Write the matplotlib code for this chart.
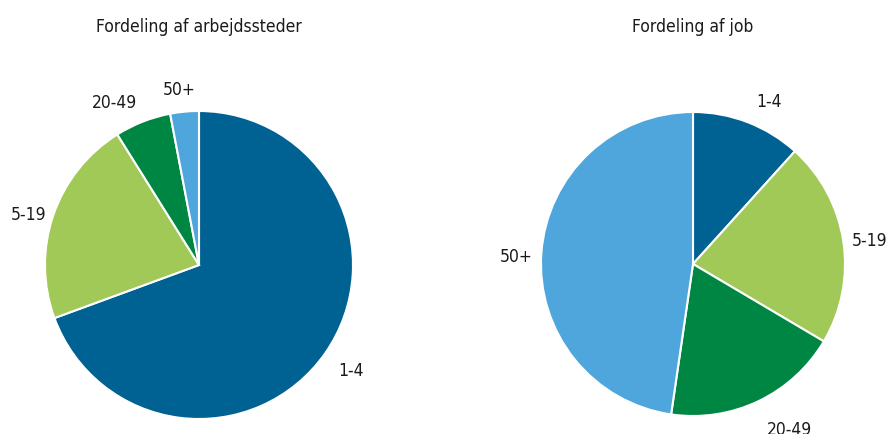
import numpy as np
import matplotlib.pyplot as plt

categories = ["1-4", "5-19", "20-49", "50+"]
workplaces = [69.4, 21.7, 5.9, 3.0]
jobs = [11.7, 21.8, 18.8, 47.7]
colors = ["#006293", "#a1c957", "#008643", "#4ea6dc"]

W, H = 890, 434
plt.rcParams['font.family'] = ['DejaVu Sans']
plt.rcParams['font.stretch'] = 'condensed'
fontsize = 12.5

fig = plt.figure(figsize=(W / 100, H / 100), dpi=100)


def draw_pie(cx, cy, r, values, title, shifts, dists):
    ax = fig.add_axes([(cx - r) / W, 1 - (cy + r) / H, 2 * r / W, 2 * r / H])
    wedges, _ = ax.pie(values, colors=colors, startangle=90, counterclock=False,
                       wedgeprops=dict(edgecolor="white", linewidth=1.5))
    # labels placed around the middle of each wedge
    for w, lab, s, d in zip(wedges, categories, shifts, dists):
        ang = np.deg2rad((w.theta1 + w.theta2) / 2 + s)
        ax.text(d * np.cos(ang), d * np.sin(ang) - 0.015, lab, ha="center", va="center",
                fontsize=fontsize, color="#1a1a1a")
    ax.set_xlim(-1, 1)
    ax.set_ylim(-1, 1)
    ax.set_aspect("equal")
    ax.axis("off")
    fig.text(cx / W, 1 - 27 / H, title, ha="center", va="center", fontsize=fontsize, color="#1a1a1a")


draw_pie(199, 265, 154, workplaces, "Fordeling af arbejdssteder",
         [0.6, 1.7, 5.7, 1.1], [1.195, 1.157, 1.2, 1.16])
draw_pie(693, 264, 152, jobs, "Fordeling af job",
         [-3.8, -0.6, 5.0, 1.0], [1.19, 1.176, 1.25, 1.166])

plt.savefig("out.png", dpi=100)
